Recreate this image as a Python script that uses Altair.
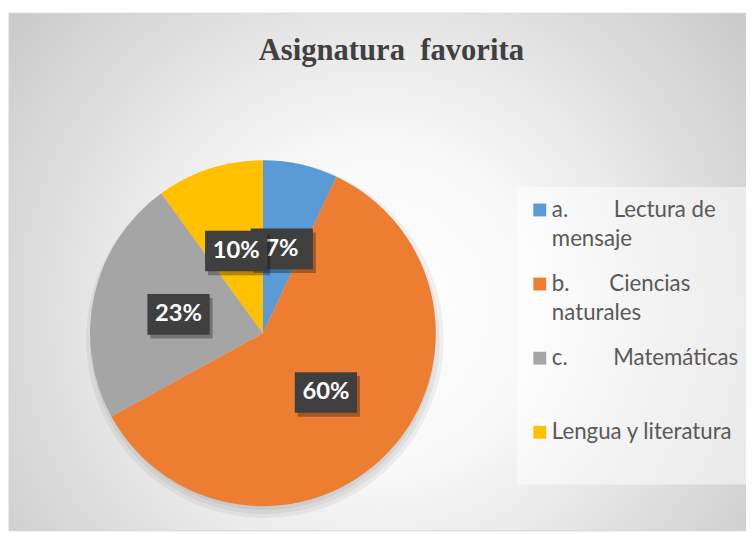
import altair as alt
import pandas as pd

NB = "\u00a0"
categories = [
    "a." + NB * 8 + "Lectura de\nmensaje",
    "b." + NB * 7 + "Ciencias\nnaturales",
    "c." + NB * 8 + "Matemáticas",
    "Lengua y literatura",
]
values = [7, 60, 23, 10]
pct_labels = ["7%", "60%", "23%", "10%"]
slice_order = [0, 1, 2, 3]
colors = ["#5B9BD5", "#ED7D31", "#A5A5A5", "#FFC000"]

df = pd.DataFrame({"cat": categories, "value": values, "label": pct_labels, "idx": slice_order})

W, H = 746, 524
CX, CY, R = 257, 324, 175
xs = alt.Scale(domain=[-CX / R, (W - CX) / R], nice=False, zero=False)
ys = alt.Scale(domain=[-(H - CY) / R, CY / R], nice=False, zero=False)
cx = alt.XDatum(0, type="quantitative", scale=xs, axis=None)
cy = alt.YDatum(0, type="quantitative", scale=ys, axis=None)

base = alt.Chart(df)

BG = {
    "gradient": "radial",
    "x1": 0.5, "y1": 0.55, "r1": 0,
    "x2": 0.5, "y2": 0.55, "r2": 0.75,
    "stops": [
        {"offset": 0, "color": "#ffffff"},
        {"offset": 0.3, "color": "#f8f8f8"},
        {"offset": 1, "color": "#bdbdbd"},
    ],
}
background = (
    base.transform_aggregate(total="sum(value)")
    .mark_rect(color=BG, stroke="#d4d4d4", strokeWidth=1)
    .encode(x=alt.value(0), x2=alt.value(W), y=alt.value(0), y2=alt.value(H))
)

shadows = [
    base.transform_aggregate(total="sum(value)")
    .mark_arc(outerRadius=R + d, color="black", opacity=0.05, yOffset=6, xOffset=2)
    .encode(theta="total:Q", x=cx, y=cy)
    for d in (-2, 2, 6)
]

pie = base.mark_arc(outerRadius=R).encode(
    theta=alt.Theta("value:Q", stack=True),
    order=alt.Order("idx:Q"),
    x=cx,
    y=cy,
    color=alt.Color(
        "cat:N",
        scale=alt.Scale(domain=categories, range=colors),
        legend=alt.Legend(
            title=None,
            orient="none",
            legendX=514,
            legendY=176,
            fillColor="rgba(255,255,255,0.5)",
            padding=12,
            symbolType="square",
            symbolSize=169,
            symbolStrokeWidth=0,
            labelFont="Lato",
            labelFontSize=22.5,
            labelColor="#595959",
            labelLimit=400,
            labelOffset=1,
            rowPadding=23,
            gridAlign="all",
            labelExpr="indexof(datum.label, '\\n') < 0 ? [datum.label, ''] : split(datum.label, '\\n')",
        ),
    ),
)

pos = (
    base.transform_joinaggregate(total="sum(value)")
    .transform_window(cum="sum(value)", sort=[alt.SortField("idx")], frame=[None, 0])
    .transform_calculate(
        mid="(datum.cum - datum.value/2) / datum.total * 2 * PI",
        lx="0.5*sin(datum.mid)",
        ly="0.5*cos(datum.mid)",
    )
)
lx = alt.X("lx:Q", scale=xs, axis=None)
ly = alt.Y("ly:Q", scale=ys, axis=None)
BOX = "M-1,-0.651L1,-0.651L1,0.651L-1,0.651Z"


def label_layers(cond):
    p = pos.transform_filter(cond)
    sh = p.mark_point(shape=BOX, filled=True, size=3969, color="black", opacity=0.3,
                      strokeWidth=0, xOffset=3, yOffset=4).encode(x=lx, y=ly)
    bx = p.mark_point(shape=BOX, filled=True, size=3969, color="#3f3f3f", opacity=1,
                      strokeWidth=0).encode(x=lx, y=ly)
    tx = p.mark_text(font="Lato", fontWeight="bold", fontSize=24, color="white",
                     baseline="middle", align="center").encode(x=lx, y=ly, text="label:N")
    return [sh, bx, tx]


layers = [background] + shadows + [pie] + label_layers("datum.idx != 3") + label_layers("datum.idx == 3")

chart = (
    alt.layer(*layers)
    .properties(
        width=W,
        height=H,
        autosize=alt.AutoSizeParams(type="none"),
        padding={"left": 1, "top": 2, "right": 0, "bottom": 0},
        title=alt.TitleParams(
            text="Asignatura" + NB * 2 + "favorita",
            font="Liberation Serif",
            fontSize=31,
            fontWeight="bold",
            color="#404040",
            anchor="middle",
            offset=-55,
            dx=14,
        ),
    )
    .configure(background="white", style={"guide-label": {"lineHeight": 29}})
    .configure_view(stroke=None)
)

chart.save("out.html", embed_options={"renderer": "svg", "actions": False})
